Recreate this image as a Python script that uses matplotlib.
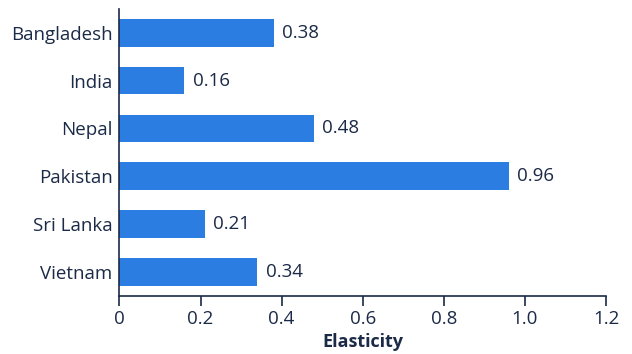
import matplotlib.pyplot as plt

countries = ['Bangladesh', 'India', 'Nepal', 'Pakistan', 'Sri Lanka', 'Vietnam']
elasticity = [0.38, 0.16, 0.48, 0.96, 0.21, 0.34]
value_labels = ['0.38', '0.16', '0.48', '0.96', '0.21', '0.34']
xtick_vals = [0, 0.2, 0.4, 0.6, 0.8, 1.0, 1.2]
xtick_labels = ['0', '0.2', '0.4', '0.6', '0.8', '1.0', '1.2']

bar_color = '#2b7de1'
text_color = '#1b2a47'

plt.rcParams['font.family'] = ['Open Sans', 'DejaVu Sans']

fig = plt.figure(figsize=(6.32, 3.54), dpi=100)
ax = fig.add_axes([0.189, 0.164, 0.77, 0.811])

y = range(len(countries))
ax.barh(y, elasticity, height=0.58, color=bar_color)

# value labels just past the end of each bar
for i, (v, lab) in enumerate(zip(elasticity, value_labels)):
    ax.annotate(lab, (v, i), xytext=(6, 0), textcoords='offset points',
                va='center', ha='left', fontsize=13.5, color=text_color)

ax.set_ylim(len(countries) - 0.5, -0.5)
ax.set_xlim(0, 1.2)
ax.set_yticks(list(y))
ax.set_yticklabels(countries)
ax.set_xticks(xtick_vals)
ax.set_xticklabels(xtick_labels)

ax.tick_params(axis='y', length=0, pad=5, labelsize=13.5, labelcolor=text_color)
ax.tick_params(axis='x', length=7, width=1.2, color=text_color, pad=3,
               labelsize=13.5, labelcolor=text_color)

for s in ['top', 'right']:
    ax.spines[s].set_visible(False)
for s in ['left', 'bottom']:
    ax.spines[s].set_color(text_color)
    ax.spines[s].set_linewidth(1.2)

ax.set_xlabel('Elasticity', fontsize=13, fontweight='bold', color=text_color, labelpad=4)

plt.savefig('out.png', dpi=100)
